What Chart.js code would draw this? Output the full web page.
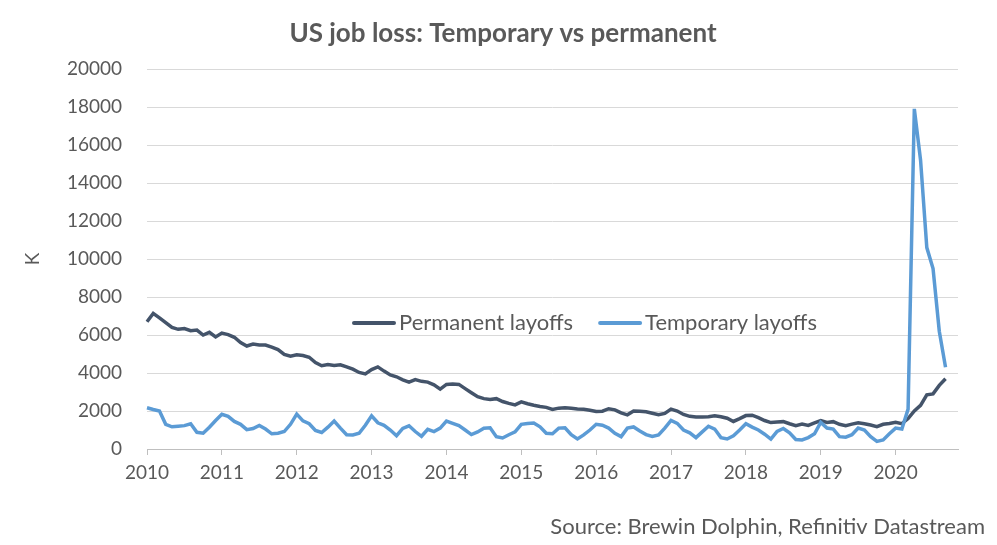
<!DOCTYPE html>
<html>
<head>
<meta charset="utf-8">
<script src="https://cdn.jsdelivr.net/npm/chart.js@4.4.1/dist/chart.umd.min.js"></script>
<style>
  html, body { margin: 0; padding: 0; background: #fff; }
</style>
</head>
<body>
<canvas id="chart" width="997" height="545"></canvas>
<script>
// monthly observations, Jan 2010 .. Sep 2020 (thousands)
const years = [2010, 2011, 2012, 2013, 2014, 2015, 2016, 2017, 2018, 2019, 2020];
const lastMonthOnAxis = 11; // axis runs to Nov 2020

const permanentLayoffs = [
  6700, 7140, 6900, 6650, 6400, 6300, 6340, 6230, 6260, 6000, 6140, 5900,
  6100, 6020, 5880, 5600, 5420, 5520, 5470, 5470, 5360, 5230, 4980, 4880,
  4960, 4920, 4830, 4550, 4380, 4450, 4400, 4430, 4320, 4200, 4030, 3950,
  4180, 4320, 4100, 3900, 3800, 3640, 3520, 3650, 3560, 3520, 3380, 3150,
  3400, 3420, 3400, 3180, 2960, 2750, 2650, 2610, 2650, 2500, 2400, 2320,
  2480, 2380, 2300, 2240, 2190, 2080, 2150, 2170, 2140, 2110, 2090, 2040,
  1970, 1990, 2120, 2060, 1900, 1800, 2000, 1990, 1960, 1880, 1800, 1870,
  2100, 2000, 1820, 1720, 1680, 1690, 1700, 1750, 1700, 1620, 1450, 1600,
  1760, 1780, 1650, 1500, 1390, 1420, 1440, 1330, 1230, 1310, 1240, 1370,
  1500, 1400, 1440, 1300, 1230, 1310, 1380, 1330, 1260, 1180, 1300, 1340,
  1400, 1330, 1600, 2000, 2300, 2850, 2900, 3350, 3700
];

const temporaryLayoffs = [
  2170, 2080, 2000, 1300, 1170, 1200, 1230, 1330, 880, 830, 1150, 1500,
  1830, 1720, 1450, 1300, 1020, 1080, 1240, 1050, 800, 830, 920, 1300,
  1840, 1480, 1330, 980, 870, 1150, 1470, 1100, 750, 740, 830, 1250,
  1750, 1380, 1250, 1000, 700, 1080, 1220, 920, 670, 1040, 920, 1100,
  1470, 1350, 1230, 1000, 760, 900, 1090, 1120, 650, 580, 750, 900,
  1300, 1340, 1370, 1170, 830, 800, 1100, 1120, 750, 530, 740, 1000,
  1300, 1250, 1100, 830, 650, 1100, 1160, 950, 760, 660, 740, 1100,
  1500, 1350, 1000, 850, 600, 900, 1200, 1050, 600, 530, 700, 1000,
  1330, 1150, 1000, 780, 520, 930, 1080, 850, 500, 480, 600, 800,
  1400, 1100, 1050, 650, 620, 750, 1100, 1000, 650, 400, 480, 800,
  1100, 1050, 2100, 17900, 15200, 10600, 9500, 6200, 4300
];

const yTicks = { min: 0, max: 20000, step: 2000 };

// month labels like "2010-01"
const months = [];
years.forEach(y => {
  const n = y === years[years.length - 1] ? lastMonthOnAxis : 12;
  for (let m = 1; m <= n; m++) months.push(y + '-' + String(m).padStart(2, '0'));
});

const FONT = 'Lato, "Open Sans", sans-serif';
const GREY = '#595959';

// title, source and in-plot legend
const textPlugin = {
  id: 'texts',
  afterDraw(chart) {
    const ctx = chart.ctx;
    ctx.save();
    ctx.fillStyle = GREY;
    ctx.textBaseline = 'middle';

    ctx.font = 'bold 26px ' + FONT;
    ctx.textAlign = 'center';
    ctx.fillText('US job loss: Temporary vs permanent', 503, 34);

    ctx.font = '22px ' + FONT;
    ctx.textAlign = 'right';
    ctx.fillText('Source: Brewin Dolphin, Refinitiv Datastream', 985, 527);

    // legend
    ctx.textAlign = 'left';
    ctx.font = '22px ' + FONT;
    let x = 354;
    const y = 323;
    chart.data.datasets.forEach(ds => {
      ctx.strokeStyle = ds.borderColor;
      ctx.lineWidth = 4;
      ctx.lineCap = 'round';
      ctx.beginPath();
      ctx.moveTo(x, y);
      ctx.lineTo(x + 40, y);
      ctx.stroke();
      ctx.fillStyle = GREY;
      ctx.fillText(ds.label, x + 45, y);
      x += 45 + ctx.measureText(ds.label).width + 27;
    });
    ctx.restore();
  }
};

new Chart(document.getElementById('chart'), {
  type: 'line',
  data: {
    labels: months,
    datasets: [
      {
        label: 'Permanent layoffs',
        data: permanentLayoffs,
        borderColor: '#44546a',
        borderWidth: 3.5,
        pointRadius: 0,
        tension: 0,
        order: 2
      },
      {
        label: 'Temporary layoffs',
        data: temporaryLayoffs,
        borderColor: '#5b9bd5',
        borderWidth: 3.5,
        pointRadius: 0,
        tension: 0,
        order: 1
      }
    ]
  },
  options: {
    responsive: false,
    animation: false,
    layout: { padding: { top: 69, right: 39, left: 0, bottom: 0 } },
    plugins: {
      legend: { display: false },
      title: { display: false },
      tooltip: { enabled: false }
    },
    scales: {
      x: {
        offset: false,
        afterFit: s => { s.height = 96; },
        border: { color: '#bfbfbf', width: 1 },
        grid: {
          drawOnChartArea: false,
          drawTicks: true,
          tickLength: 6,
          tickColor: c => (c.tick && c.tick.label) ? '#bfbfbf' : 'rgba(0,0,0,0)'
        },
        ticks: {
          autoSkip: false,
          maxRotation: 0,
          minRotation: 0,
          padding: 6,
          color: GREY,
          font: { family: FONT, size: 19 },
          callback: function (v) {
            const l = this.getLabelForValue(v);
            return l.endsWith('-01') ? l.slice(0, 4) : '';
          }
        }
      },
      y: {
        min: yTicks.min,
        max: yTicks.max,
        afterFit: s => { s.width = 147; },
        border: { display: false },
        grid: { color: '#d9d9d9', lineWidth: 1, drawTicks: false },
        ticks: {
          stepSize: yTicks.step,
          padding: 25,
          color: GREY,
          font: { family: FONT, size: 19 },
          callback: v => String(v)
        },
        title: {
          display: true,
          text: 'K',
          color: GREY,
          font: { family: FONT, size: 19 },
          padding: { top: 21, bottom: 0 }
        }
      }
    }
  },
  plugins: [textPlugin]
});
</script>
</body>
</html>
